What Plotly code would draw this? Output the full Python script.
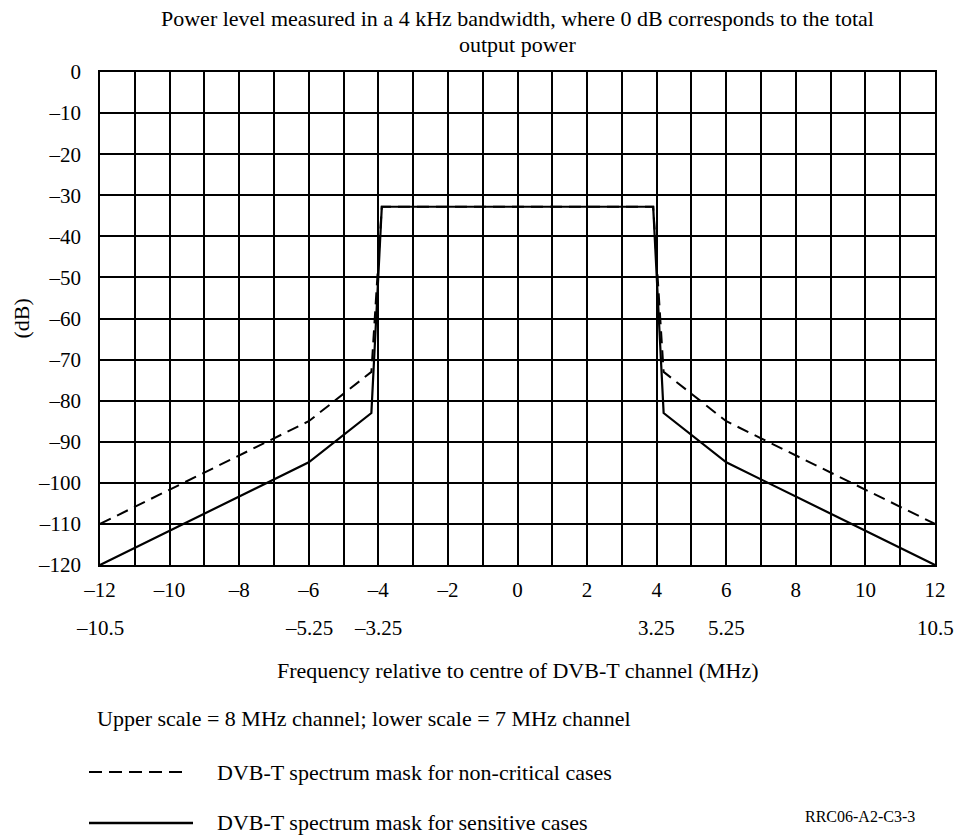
import plotly.graph_objects as go

# Frequency (MHz, 8 MHz channel scale) and power level (dB)
freq_noncritical = [-12, -6, -4.2, -3.9, 3.9, 4.2, 6, 12]
level_noncritical = [-110, -85, -73, -32.8, -32.8, -73, -85, -110]

freq_sensitive = [-12, -6, -4.2, -3.9, 3.9, 4.2, 6, 12]
level_sensitive = [-120, -95, -83, -32.8, -32.8, -83, -95, -120]

x_tick_vals = [-12, -10, -8, -6, -4, -2, 0, 2, 4, 6, 8, 10, 12]
x_tick_text = ["–12", "–10", "–8", "–6", "–4", "–2", "0", "2", "4", "6", "8", "10", "12"]

y_tick_vals = [0, -10, -20, -30, -40, -50, -60, -70, -80, -90, -100, -110, -120]
y_tick_text = ["0", "–10", "–20", "–30", "–40", "–50", "–60", "–70", "–80", "–90", "–100", "–110", "–120"]

# Lower scale (7 MHz channel) labels and their positions on the upper scale
lower_scale_pos = [-12, -6, -4, 4, 6, 12]
lower_scale_text = ["–10.5", "–5.25", "–3.25", "3.25", "5.25", "10.5"]

FONT = "Liberation Serif"
FS = 21
TS = 22

fig = go.Figure()
fig.add_trace(go.Scatter(
    x=freq_noncritical, y=level_noncritical, mode="lines",
    line=dict(color="black", width=2, dash="12px,7px"),
    name="DVB-T spectrum mask for non-critical cases", showlegend=False))
fig.add_trace(go.Scatter(
    x=freq_sensitive, y=level_sensitive, mode="lines",
    line=dict(color="black", width=2.2),
    name="DVB-T spectrum mask for sensitive cases", showlegend=False))

fig.update_layout(
    width=967, height=836,
    margin=dict(l=100, r=32, t=72, b=271),
    paper_bgcolor="white", plot_bgcolor="white",
    font=dict(family=FONT, size=FS, color="black"),
    xaxis=dict(
        range=[-12, 12], tickmode="array", tickvals=x_tick_vals, ticktext=x_tick_text,
        showgrid=True, gridcolor="black", gridwidth=1.5,
        minor=dict(dtick=1, tick0=0, showgrid=True, gridcolor="black", gridwidth=1.5),
        showline=True, linecolor="black", linewidth=1.5, mirror=True,
        ticks="outside", ticklen=5, tickcolor="rgba(0,0,0,0)",
        zeroline=False, fixedrange=True,
    ),
    yaxis=dict(
        range=[-120, 0], tickmode="array", tickvals=y_tick_vals, ticktext=y_tick_text,
        showgrid=True, gridcolor="black", gridwidth=1.5,
        showline=True, linecolor="black", linewidth=1.5, mirror=True,
        ticks="outside", ticklen=13, tickcolor="rgba(0,0,0,0)",
        zeroline=False, fixedrange=True,
    ),
)

def px_x(px):
    return (px - 100) / 835.0

def px_y(py):
    return (565 - py) / 493.0

ann = []
ann.append(dict(text="Power level measured in a 4 kHz bandwidth, where 0 dB corresponds to the total",
                x=0.5, y=px_y(18), xref="paper", yref="paper", showarrow=False,
                xanchor="center", yanchor="middle", font=dict(size=TS)))
ann.append(dict(text="output power", x=0.5, y=px_y(45), xref="paper", yref="paper",
                showarrow=False, xanchor="center", yanchor="middle", font=dict(size=TS)))
ann.append(dict(text="(dB)", x=px_x(21), y=0.5, xref="paper", yref="paper", textangle=-90,
                showarrow=False, xanchor="center", yanchor="middle", font=dict(size=TS)))
for pos, txt in zip(lower_scale_pos, lower_scale_text):
    ann.append(dict(text=txt, x=pos, y=px_y(628), xref="x", yref="paper", showarrow=False,
                    xanchor="center", yanchor="middle", font=dict(size=FS)))
ann.append(dict(text="Frequency relative to centre of DVB-T channel (MHz)", x=0.5, y=px_y(670),
                xref="paper", yref="paper", showarrow=False, xanchor="center", yanchor="middle",
                font=dict(size=TS)))
ann.append(dict(text="Upper scale = 8 MHz channel; lower scale = 7 MHz channel", x=px_x(95),
                y=px_y(718), xref="paper", yref="paper", showarrow=False,
                xanchor="left", yanchor="middle", font=dict(size=TS)))
ann.append(dict(text="DVB-T spectrum mask for non-critical cases", x=px_x(215), y=px_y(772),
                xref="paper", yref="paper", showarrow=False, xanchor="left", yanchor="middle",
                font=dict(size=TS)))
ann.append(dict(text="DVB-T spectrum mask for sensitive cases", x=px_x(215), y=px_y(822),
                xref="paper", yref="paper", showarrow=False, xanchor="left", yanchor="middle",
                font=dict(size=TS)))
ann.append(dict(text="RRC06-A2-C3-3", x=px_x(803), y=px_y(816), xref="paper", yref="paper",
                showarrow=False, xanchor="left", yanchor="middle", font=dict(size=16)))
fig.update_layout(annotations=ann)

fig.add_shape(type="line", xref="paper", yref="paper", x0=px_x(89), x1=px_x(187),
              y0=px_y(772), y1=px_y(772), line=dict(color="black", width=2, dash="13px,7px"))
fig.add_shape(type="line", xref="paper", yref="paper", x0=px_x(89), x1=px_x(193),
              y0=px_y(823), y1=px_y(823), line=dict(color="black", width=2.5))

fig.write_html("out.html", config={"displayModeBar": False},
               post_script="document.body.style.margin='0';document.body.style.overflow='hidden';")
